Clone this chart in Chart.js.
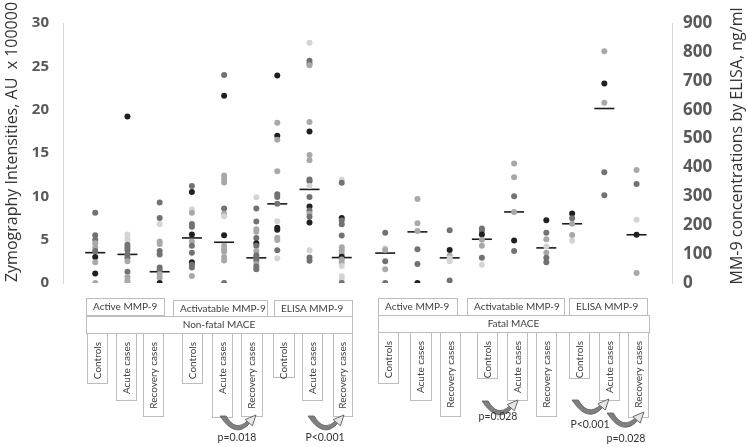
<!DOCTYPE html>
<html>
<head>
<meta charset="utf-8">
<script src="https://cdn.jsdelivr.net/npm/chart.js@4.4.0/dist/chart.umd.min.js"></script>
<style>
  html, body { margin: 0; padding: 0; background: #fff; }
</style>
</head>
<body>
<canvas id="zymo" width="746" height="447"></canvas>
<script>
// x slot of the 18 groups (non-fatal: active, activatable, ELISA x controls/acute/recovery, then fatal)
const groupX = [1, 2, 3, 4, 5, 6, 6.65, 7.65, 8.65, 10, 11, 12, 13, 14, 15, 15.8, 16.8, 17.8];

// points: [value, number of coinciding observations]
// zymography in AU x 100000 (left axis), ELISA in ng/ml (right axis)
const nfActiveCtrl = [[8.1,3],[5.5,3],[5.0,3],[4.6,2],[4.1,2],[3.7,3],[3.0,4],[2.4,2],[1.1,4],[0,2]];
const nfActiveAcute = [[19.2,4],[5.6,1],[5.2,1],[4.9,1],[4.4,3],[4.1,3],[3.8,3],[3.3,3],[2.9,3],[2.5,2],[1.3,3],[0.7,2],[0.3,2],[0,2]];
const nfActiveRecov = [[9.3,3],[7.5,3],[6.8,1],[4.8,2],[4.5,2],[3.7,3],[3.3,3],[1.8,3],[1.5,3],[1.0,2],[0.6,2],[0,4]];
const nfActivCtrl = [[11.2,3],[10.5,4],[8.5,1],[8.1,2],[6.8,3],[6.5,3],[5.6,4],[4.8,2],[4.3,3],[3.5,3],[2.4,4],[2.1,3],[1.8,3],[0.8,2]];
const nfActivAcute = [[24.0,3],[21.6,4],[12.4,2],[12.0,2],[11.6,2],[8.6,3],[8.0,2],[7.7,1],[5.5,4],[4.3,2],[3.9,2],[3.6,2],[3.0,2],[2.6,2],[0,3]];
const nfActivRecov = [[9.9,1],[8.6,3],[7.1,3],[6.2,2],[5.9,2],[5.2,3],[4.6,4],[4.3,3],[3.7,2],[3.2,3],[2.9,3],[2.6,3],[2.2,2],[1.9,3],[1.6,3]];
const nfElisaCtrl = [[718,4],[555,2],[510,4],[496,2],[387,2],[307,3],[298,3],[274,3],[214,1],[191,4],[184,4],[157,2],[149,2],[113,3],[86,1]];
const nfElisaAcute = [[832,1],[769,3],[760,3],[754,2],[557,2],[524,4],[443,2],[425,2],[358,3],[352,3],[336,1],[298,3],[265,4],[251,3],[240,2],[229,3],[209,4],[113,1],[88,3],[77,3]];
const nfElisaRecov = [[358,1],[347,3],[225,4],[216,3],[203,3],[164,3],[124,2],[113,2],[102,2],[91,4],[81,2],[70,2],[59,1],[23,1],[12,1],[0,3]];
const fActiveCtrl = [[5.8,3],[4.0,1],[3.8,2],[2.5,3],[1.6,2],[0,3]];
const fActiveAcute = [[9.7,2],[6.9,2],[6.0,2],[3.9,3],[2.2,3],[0,4]];
const fActiveRecov = [[6.1,3],[3.8,4],[3.15,2],[2.85,1],[2.5,1],[0.3,3]];
const fActivCtrl = [[6.3,3],[6.0,3],[5.6,4],[5.0,2],[4.3,2],[2.9,3],[2.1,1]];
const fActivAcute = [[13.8,2],[12.2,2],[10.0,3],[8.2,2],[4.9,4],[3.7,3]];
const fActivRecov = [[7.25,4],[5.8,3],[5.05,2],[4.2,1],[3.5,2],[2.9,3],[2.4,3]];
const fElisaCtrl = [[241,4],[224,3],[205,2],[166,2],[146,1]];
const fElisaAcute = [[802,2],[691,4],[624,2],[383,3],[304,3]];
const fElisaRecov = [[391,2],[343,3],[219,1],[167,4],[35,2]];

const medians = [3.5, 3.3, 1.3, 5.2, 4.7, 2.9, 274, 324, 88, 3.45, 5.9, 2.9, 5.05, 8.2, 4.05, 205, 604, 167];

const panelLabels = ['Non-fatal MACE', 'Fatal MACE'];
const assayLabels = ['Active MMP-9', 'Activatable MMP-9', 'ELISA MMP-9'];
const groupLabels = ['Controls', 'Acute cases', 'Recovery cases'];
const pValues = ['p=0.018', 'P<0.001', 'p=0.028', 'P<0.001', 'p=0.028'];

const groups = [nfActiveCtrl, nfActiveAcute, nfActiveRecov, nfActivCtrl, nfActivAcute, nfActivRecov,
  nfElisaCtrl, nfElisaAcute, nfElisaRecov, fActiveCtrl, fActiveAcute, fActiveRecov,
  fActivCtrl, fActivAcute, fActivRecov, fElisaCtrl, fElisaAcute, fElisaRecov];
const isElisa = i => (i % 9) >= 6;

// darker = more observations on top of each other
const shade = ['#d4d4d4', '#a8a8a8', '#727272', '#202020'];

const datasets = [];
groups.forEach((g, i) => {
  datasets.push({
    data: g.map(p => ({ x: groupX[i], y: p[0] })),
    pointBackgroundColor: g.map(p => shade[Math.min(p[1], 4) - 1]),
    pointBorderWidth: 0,
    pointRadius: 3,
    yAxisID: isElisa(i) ? 'y1' : 'y'
  });
});
['y', 'y1'].forEach(axis => {
  datasets.push({
    data: medians.map((m, i) => ({ x: groupX[i], y: m, e: isElisa(i) }))
      .filter(p => p.e === (axis === 'y1')),
    pointStyle: 'line',
    pointRadius: 10,
    pointBorderColor: '#1a1a1a',
    pointBorderWidth: 1.6,
    yAxisID: axis
  });
});

const FONT = '"Open Sans", "Noto Sans", sans-serif';
const SMALL = 'Lato, sans-serif';

function curvedArrow(ctx, x1, x2, y0) {
  const s = (x2 - x1) / 36;
  const P = (dx, dy) => [x1 + dx * s, y0 + dy * s];
  ctx.beginPath();
  ctx.moveTo(...P(0, 0));
  ctx.quadraticCurveTo(...P(15, 23), ...P(29, 7));
  ctx.lineTo(...P(27, 4.5));
  ctx.quadraticCurveTo(...P(15, 16), ...P(6, 0));
  ctx.closePath();
  ctx.fillStyle = '#808080';
  ctx.fill();
  ctx.strokeStyle = '#5c5c5c';
  ctx.lineWidth = 0.8;
  ctx.stroke();
  ctx.beginPath();
  ctx.moveTo(...P(35, -1));
  ctx.lineTo(...P(24.5, 3.5));
  ctx.lineTo(...P(31.5, 9.5));
  ctx.closePath();
  ctx.fillStyle = '#e6e6e6';
  ctx.fill();
  ctx.strokeStyle = '#6a6a6a';
  ctx.lineWidth = 1;
  ctx.stroke();
}

const annotations = {
  id: 'annotations',
  afterDraw(chart) {
    const ctx = chart.ctx;
    ctx.save();
    // axis titles
    ctx.fillStyle = '#333';
    ctx.font = '16px ' + FONT;
    ctx.textAlign = 'center';
    ctx.textBaseline = 'middle';
    ctx.save();
    ctx.translate(12, 142);
    ctx.rotate(-Math.PI / 2);
    ctx.fillText('Zymography Intensities, AU  x 100000', 0, 0);
    ctx.restore();
    ctx.save();
    ctx.translate(737, 146);
    ctx.rotate(-Math.PI / 2);
    ctx.fillText('MM-9 concentrations by ELISA, ng/ml', 0, 0);
    ctx.restore();

    // table under the plot
    const box = (x1, y1, x2, y2) => {
      ctx.fillStyle = '#fff';
      ctx.fillRect(x1, y1, x2 - x1, y2 - y1);
      ctx.strokeStyle = '#bdbdbd';
      ctx.lineWidth = 1;
      ctx.strokeRect(Math.round(x1) + 0.5, Math.round(y1) + 0.5, Math.round(x2 - x1), Math.round(y2 - y1));
    };
    ctx.font = '10px ' + SMALL;
    const headers = [[86, 298, 164, 315], [173, 300, 267, 316], [274, 300, 352, 316],
      [378, 298, 457, 315], [467, 298, 564, 315], [569, 298, 647, 315]];
    headers.forEach((b, i) => {
      box(...b);
      ctx.fillStyle = '#404040';
      ctx.textAlign = 'left';
      ctx.fillText(assayLabels[i % 3], b[0] + 7, (b[1] + b[3]) / 2 + 0.5);
    });
    const panels = [[86, 316, 352, 333], [378, 315, 649, 332]];
    panels.forEach((b, i) => {
      box(...b);
      ctx.fillStyle = '#404040';
      ctx.textAlign = 'center';
      ctx.fillText(panelLabels[i], (b[0] + b[2]) / 2, (b[1] + b[3]) / 2 + 0.5);
    });
    const cols = [[87, 107, 383], [116, 136, 400], [143, 163, 416], [182, 202, 383], [212, 232, 417],
      [241, 262, 416], [273, 294, 377], [302, 322, 400], [333, 352, 416],
      [378, 398, 383], [410, 431, 400], [440, 460, 416], [477, 497, 378], [507, 527, 400],
      [536, 556, 416], [569, 589, 378], [599, 619, 400], [628, 648, 417]];
    cols.forEach((c, i) => {
      const top = i < 9 ? 333 : 332;
      box(c[0], top, c[1], c[2]);
      ctx.save();
      ctx.translate((c[0] + c[1]) / 2 + 0.5, top + 9);
      ctx.rotate(-Math.PI / 2);
      ctx.fillStyle = '#404040';
      ctx.textAlign = 'right';
      ctx.fillText(groupLabels[i % 3], 0, 0);
      ctx.restore();
    });
    const arrows = [[220, 257, 416, 237, 438], [308, 345, 416, 325, 438], [482, 519, 401, 498, 417],
      [572, 610, 400, 590, 425], [607, 645, 413, 626, 439]];
    arrows.forEach((a, i) => {
      curvedArrow(ctx, a[0], a[1], a[2]);
      ctx.fillStyle = '#333';
      ctx.textAlign = 'center';
      ctx.font = '10.5px ' + SMALL;
      ctx.fillText(pValues[i], a[3], a[4]);
    });
    ctx.restore();
  }
};

new Chart('zymo', {
  type: 'scatter',
  data: { datasets: datasets },
  options: {
    responsive: false,
    devicePixelRatio: 1,
    animation: false,
    layout: { padding: { top: 7, bottom: 164, left: 0, right: 0 } },
    plugins: { legend: { display: false }, tooltip: { enabled: false } },
    scales: {
      x: { type: 'linear', display: false, min: 0, max: 18.9 },
      y: {
        position: 'left', min: 0, max: 30,
        ticks: { stepSize: 5, padding: 14, font: { family: FONT, size: 15, weight: 'bold' }, color: '#595959' },
        grid: { display: false, drawTicks: false },
        border: { color: '#d9d9d9' },
        afterFit: s => { s.width = 63; }
      },
      y1: {
        position: 'right', min: 0, max: 900,
        ticks: { stepSize: 100, padding: 11, font: { family: FONT, size: 17, weight: 'bold' }, color: '#595959' },
        grid: { display: false, drawTicks: false },
        border: { color: '#d9d9d9' },
        afterFit: s => { s.width = 74; }
      }
    }
  },
  plugins: [annotations]
});
</script>
</body>
</html>
